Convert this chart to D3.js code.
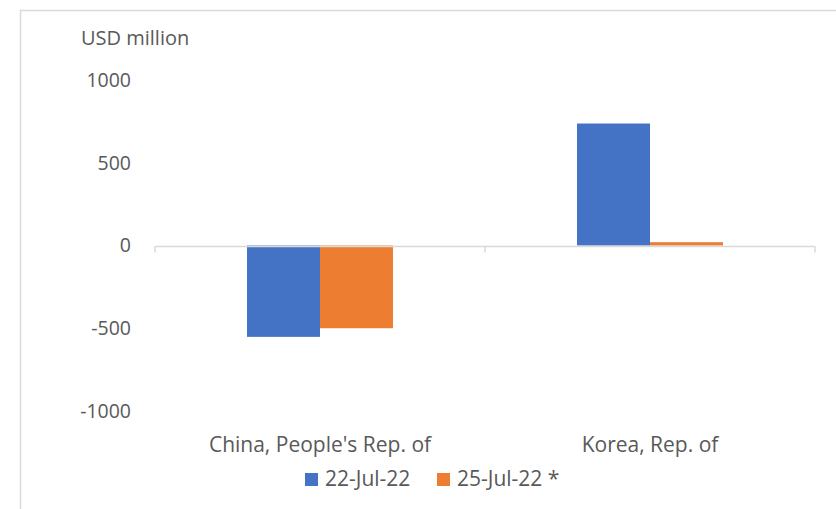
<!DOCTYPE html>
<html><head><meta charset="utf-8">
<script src="https://cdn.jsdelivr.net/npm/d3@7"></script>
<style>body{margin:0;background:#fff;} text{font-family:"Open Sans",sans-serif;fill:#595959;}</style>
</head><body>
<svg id="c" width="836" height="509"></svg>
<script>
const categories = ["China, People's Rep. of", "Korea, Rep. of"];
const seriesNames = ["22-Jul-22", "25-Jul-22 *"];
const series1 = [-552, 737];
const series2 = [-500, 20];
const yTicks = [-1000, -500, 0, 500, 1000];
const colors = ["#4472C4", "#ED7D31"];

const svg = d3.select("#c");
const fsY = 19.5, fsC = 21;
svg.append("rect").attr("x",20.5).attr("y",10.5).attr("width",900).attr("height",600)
  .attr("fill","none").attr("stroke","#d9d9d9").attr("stroke-width",1.5);

const y = d3.scaleLinear().domain([-1000,1000]).range([411,80]);
const x = d3.scaleBand().domain(categories).range([155,815]).paddingInner(0).paddingOuter(0);
const groupW = 146;
const xs = d3.scaleBand().domain(seriesNames).range([0,groupW]);
const data = [series1, series2];

// y labels
svg.append("g").selectAll("text").data(yTicks).join("text")
  .attr("x",131).attr("y",d=>y(d)).attr("dy","0.35em").attr("text-anchor","end")
  .style("font-size",fsY+"px").text(d=>d);

svg.append("text").attr("x",81).attr("y",45).style("font-size","20px").text("USD million");

// bars
seriesNames.forEach((s,si)=>{
  svg.append("g").selectAll("rect").data(categories).join("rect")
    .attr("x",c=>x(c)+(x.bandwidth()-groupW)/2+xs(s))
    .attr("width",xs.bandwidth())
    .attr("y",(c,i)=>Math.min(y(0),y(data[si][i])))
    .attr("height",(c,i)=>Math.abs(y(data[si][i])-y(0)))
    .attr("fill",colors[si]);
});

// x axis
const y0 = Math.round(y(0))+0.5;
const ax = svg.append("g").attr("transform",`translate(0,${y0})`)
  .call(d3.axisBottom(x).tickSize(0).tickFormat(""));
ax.select(".domain").attr("stroke","#d9d9d9").attr("stroke-width",1.5).attr("d","M155,0H815");
const bounds = [155, ...categories.map(c=>x(c)+x.bandwidth())];
ax.selectAll("line.b").data(bounds).join("line").attr("class","b")
  .attr("x1",d=>d).attr("x2",d=>d).attr("y1",0).attr("y2",6)
  .attr("stroke","#d9d9d9").attr("stroke-width",1.5);

svg.append("g").selectAll("text").data(categories).join("text")
  .attr("x",c=>x(c)+x.bandwidth()/2).attr("y",452).attr("text-anchor","middle")
  .style("font-size",fsC+"px").text(c=>c);

// legend
const lg = svg.append("g");
const items = [{n:seriesNames[0],c:colors[0],x:305},{n:seriesNames[1],c:colors[1],x:437}];
items.forEach(it=>{
  lg.append("rect").attr("x",it.x).attr("y",473).attr("width",13).attr("height",13).attr("fill",it.c);
  lg.append("text").attr("x",it.x+20).attr("y",486).style("font-size",fsC+"px").text(it.n);
});
</script>
</body></html>
